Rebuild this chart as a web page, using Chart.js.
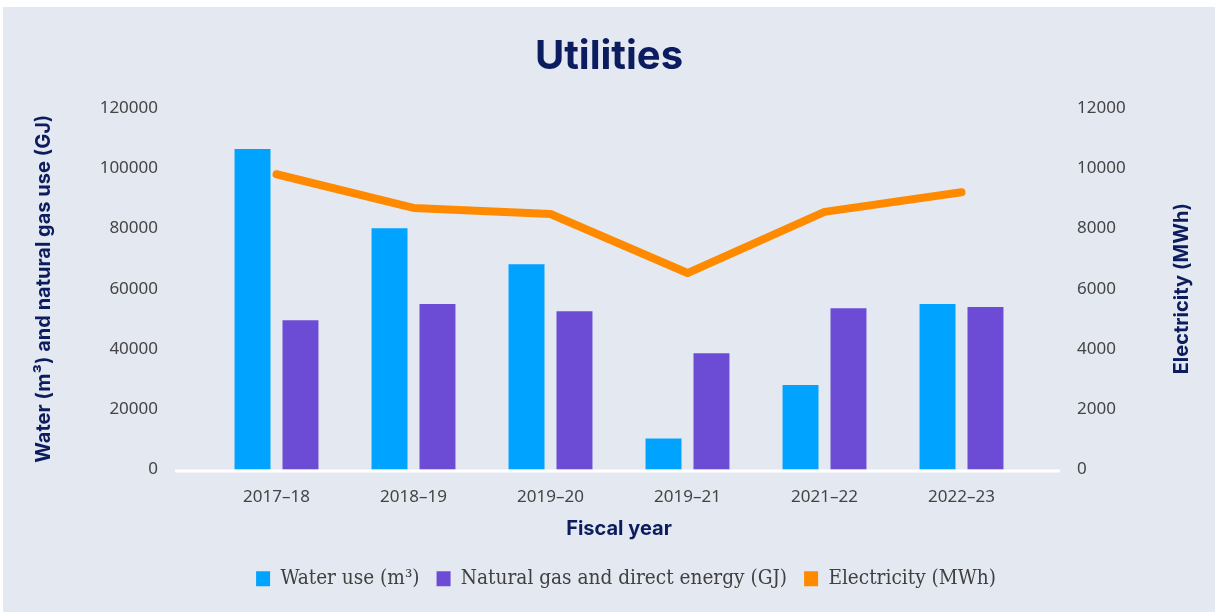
<!DOCTYPE html>
<html>
<head>
<meta charset="utf-8">
<script src="https://cdn.jsdelivr.net/npm/chart.js@4"></script>
<style>
  html, body { margin: 0; padding: 0; background: #ffffff; }
  #wrap { position: absolute; left: 3px; top: 7px; width: 1212px; height: 605px; background: #e4e8f0; }
</style>
</head>
<body>
<div id="wrap"><canvas id="chart"></canvas></div>
<script>
const years = ["2017–18", "2018–19", "2019–20", "2019–21", "2021–22", "2022–23"];
const waterUse = [106400, 80100, 68100, 10300, 28000, 54900];
const gasUse = [49500, 54900, 52500, 38600, 53500, 53900];
const electricity = [9800, 8680, 8480, 6520, 8550, 9200];
const leftTicks = [0, 20000, 40000, 60000, 80000, 100000, 120000];
const rightTicks = [0, 2000, 4000, 6000, 8000, 10000, 12000];

const NAVY = "#0b1d5e";
const TICK = "#444444";

// white baseline that runs a bit past the category area, like the original
const baseline = {
  id: "baseline",
  beforeDatasetsDraw(chart) {
    const { ctx, chartArea, scales } = chart;
    const y = scales.y.getPixelForValue(0);
    ctx.save();
    ctx.strokeStyle = "#ffffff";
    ctx.lineWidth = 3;
    ctx.beginPath();
    ctx.moveTo(chartArea.left - 33, y + 1.5);
    ctx.lineTo(chartArea.right + 30, y + 1.5);
    ctx.stroke();
    ctx.restore();
  }
};

// right axis title reads bottom-to-top in the original
const rightTitle = {
  id: "rightTitle",
  afterDraw(chart) {
    const { ctx, chartArea } = chart;
    ctx.save();
    ctx.translate(chart.width - 33, (chartArea.top + chartArea.bottom) / 2);
    ctx.rotate(-Math.PI / 2);
    ctx.font = "bold 20px Inter, 'Noto Sans', sans-serif";
    ctx.fillStyle = NAVY;
    ctx.textAlign = "center";
    ctx.textBaseline = "middle";
    ctx.fillText("Electricity (MWh)", 0, 0);
    ctx.restore();
  }
};

// legend in the original sits a little right of centre
const legendShift = {
  id: "legendShift",
  afterLayout(chart) {
    chart.legend.left += 17;
    chart.legend.right += 17;
  }
};

new Chart(document.getElementById("chart"), {
  type: "bar",
  data: {
    labels: years,
    datasets: [
      {
        label: "Water use (m³)",
        data: waterUse,
        backgroundColor: "#00a3ff",
        yAxisID: "y",
        order: 1,
        categoryPercentage: 0.70,
        barPercentage: 0.75
      },
      {
        label: "Natural gas and direct energy (GJ)",
        data: gasUse,
        backgroundColor: "#6c4cd4",
        yAxisID: "y",
        order: 1,
        categoryPercentage: 0.70,
        barPercentage: 0.75
      },
      {
        type: "line",
        label: "Electricity (MWh)",
        data: electricity,
        borderColor: "#ff8a00",
        backgroundColor: "#ff8a00",
        borderWidth: 8,
        borderCapStyle: "round",
        borderJoinStyle: "round",
        pointRadius: 0,
        tension: 0,
        yAxisID: "y1",
        order: 0
      }
    ]
  },
  options: {
    responsive: true,
    maintainAspectRatio: false,
    animation: false,
    layout: { padding: { left: 0, right: 0, top: 0, bottom: 13 } },
    plugins: {
      title: {
        display: true,
        text: "Utilities",
        color: NAVY,
        font: { family: "Inter, 'Noto Sans', sans-serif", size: 40, weight: "bold" },
        padding: { top: 26, bottom: 27 }
      },
      legend: {
        position: "bottom",
        labels: {
          boxWidth: 14,
          boxHeight: 15,
          padding: 17,
          color: "#404040",
          font: { family: "'DejaVu Serif Condensed', 'DejaVu Serif', serif", size: 20.6 },
          sort: (a, b) => a.datasetIndex - b.datasetIndex,
          generateLabels(chart) {
            const items = Chart.defaults.plugins.legend.labels.generateLabels(chart);
            items.forEach(it => { it.lineWidth = 0; it.strokeStyle = "transparent"; });
            return items;
          }
        }
      },
      tooltip: { enabled: false }
    },
    scales: {
      x: {
        afterFit: s => { s.height = 82; },
        grid: { display: false, drawTicks: false },
        border: { display: false },
        ticks: {
          color: TICK,
          padding: 18,
          font: { family: "'Noto Sans', sans-serif", size: 17 }
        },
        title: {
          display: true,
          text: "Fiscal year",
          color: NAVY,
          font: { family: "Inter, 'Noto Sans', sans-serif", size: 20, weight: "bold" },
          padding: { top: 0, bottom: 10 }
        }
      },
      y: {
        position: "left",
        min: 0,
        max: 120000,
        afterBuildTicks: s => { s.ticks = leftTicks.map(v => ({ value: v })); },
        afterFit: s => { s.width = 205; },
        grid: { display: false, drawTicks: false },
        border: { display: false },
        ticks: {
          color: TICK,
          padding: 50,
          font: { family: "'Noto Sans', sans-serif", size: 17 },
          callback: v => String(v)
        },
        title: {
          display: true,
          text: "Water (m³) and natural gas use (GJ)",
          color: NAVY,
          font: { family: "Inter, 'Noto Sans', sans-serif", size: 20, weight: "bold" },
          padding: { top: 29, bottom: 0 }
        }
      },
      y1: {
        position: "right",
        min: 0,
        max: 12000,
        afterBuildTicks: s => { s.ticks = rightTicks.map(v => ({ value: v })); },
        afterFit: s => { s.width = 185; },
        grid: { display: false, drawTicks: false },
        border: { display: false },
        ticks: {
          color: TICK,
          padding: 47,
          font: { family: "'Noto Sans', sans-serif", size: 17 },
          callback: v => String(v)
        }
      }
    }
  },
  plugins: [baseline, rightTitle, legendShift]
});
</script>
</body>
</html>
